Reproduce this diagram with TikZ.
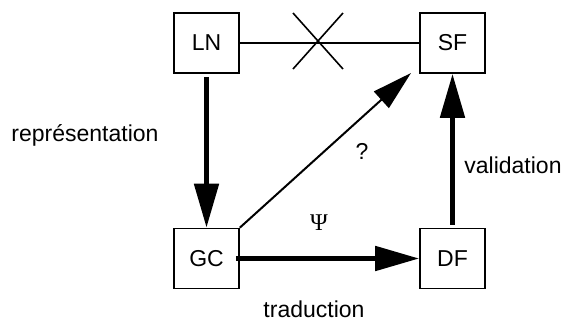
\documentclass[tikz,border=0pt]{standalone}
\usepackage{fontspec}
\setmainfont{Liberation Sans}
\newfontfamily\psifont{Liberation Serif}
\usetikzlibrary{arrows.meta}
\begin{document}
\begin{tikzpicture}[x=1pt,y=-1pt,
  font=\fontsize{23}{28}\selectfont,
  box/.style={draw,line width=1.6pt,minimum width=65pt,minimum height=60pt,inner sep=0pt},
  lbl/.style={inner sep=0pt},
  thick arrow/.style={line width=5pt,-{Triangle[length=44pt,width=24pt]}},
  thin arrow/.style={line width=2pt,-{Triangle[length=40pt,width=22pt]}}]
\useasboundingbox (0,0) rectangle (566,322);
\node[box] (LN) at (206.5,43) {LN};
\node[box] (SF) at (452.5,43) {SF};
\node[box] (GC) at (206.5,258.5) {GC};
\node[box] (DF) at (452.5,258.5) {DF};
\coordinate (X) at (318,41);
\draw[line width=1.6pt] (LN.east) -- (SF.west);
\draw[line width=1.6pt] (X) ++(-25,-28) -- ++(50,56);
\draw[line width=1.6pt] (X) ++(25,-28) -- ++(-50,56);
\draw[thick arrow] ([yshift=-3pt]LN.south) -- (GC.north);
\draw[thick arrow] ([xshift=-4pt]GC.east) -- (DF.west);
\draw[thick arrow] ([yshift=3pt]DF.north) -- (SF.south);
\coordinate (T) at (411,73);
\draw[thin arrow] (GC.north east) -- (T);
\node[lbl] (rep) at (85,135) {représentation};
\node[lbl] (val) at (513,165) {validation};
\node[lbl] (tra) at (314,309) {traduction};
\node[lbl] (q) at (362,151) {?};
\node[lbl] (psi) at (319,223) {\psifont\fontsize{24}{28}\selectfont Ψ};
\end{tikzpicture}
\end{document}
